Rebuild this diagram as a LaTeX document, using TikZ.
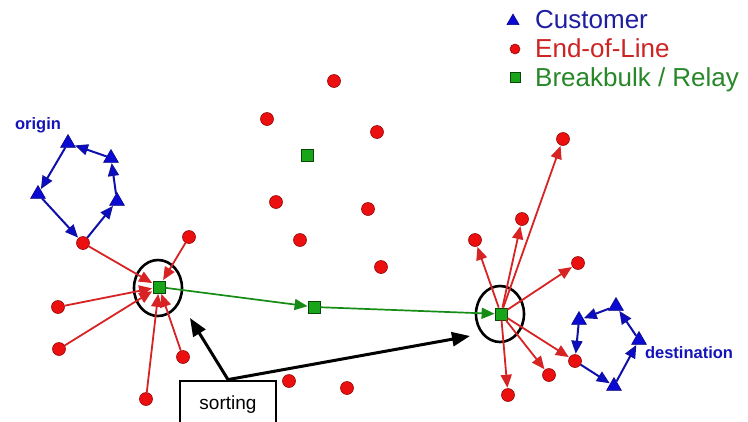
\documentclass[tikz,border=0pt]{standalone}
\usepackage{fontspec}
\setmainfont{Liberation Sans}
\usetikzlibrary{arrows.meta,shapes.geometric}

\definecolor{custblue}{RGB}{10,10,210}
\definecolor{custedge}{RGB}{0,0,120}
\definecolor{custline}{RGB}{15,15,170}
\definecolor{eolred}{RGB}{235,15,15}
\definecolor{eoledge}{RGB}{150,10,10}
\definecolor{linered}{RGB}{215,35,35}
\definecolor{relaygreen}{RGB}{25,165,25}
\definecolor{relayedge}{RGB}{10,70,10}
\definecolor{legblue}{RGB}{30,30,160}
\definecolor{legred}{RGB}{205,35,35}
\definecolor{leggreen}{RGB}{40,135,40}
\definecolor{labblue}{RGB}{20,20,185}

\begin{document}
\begin{tikzpicture}[x=1pt,y=-1pt,
  eol/.style={circle,fill=eolred,draw=eoledge,line width=0.6pt,minimum size=13pt,inner sep=0pt},
  relay/.style={rectangle,fill=relaygreen,draw=relayedge,line width=0.8pt,minimum size=12pt,inner sep=0pt},
  cust/.style={regular polygon,regular polygon sides=3,fill=custblue,draw=custedge,line width=0.5pt,minimum size=17pt,inner sep=0pt},
  hub/.style={ellipse,draw=black,line width=2.6pt,minimum width=48pt,minimum height=56pt,inner sep=0pt},
  redarrow/.style={draw=linered,line width=1.8pt,-{Triangle[length=13pt,width=11pt]},shorten >=0.5pt},
  bluearrow/.style={draw=custline,line width=2pt,-{Triangle[length=13pt,width=11pt,fill=custblue]},shorten >=0.5pt},
  greenarrow/.style={draw=relaygreen!85!black,line width=1.7pt,-{Triangle[length=13pt,width=11pt]}},
  blackarrow/.style={draw=black,line width=3pt,-{Triangle[length=18pt,width=14pt]}},
  legtext/.style={anchor=base west,inner sep=0pt,font=\fontsize{26}{30}\selectfont},
  placelabel/.style={text=labblue,inner sep=0pt,font=\fontsize{16.5}{19}\selectfont\bfseries}
]
\useasboundingbox (0,0) rectangle (748,421);
\fill[white] (0,0) rectangle (748,421);

% legend
\node[cust,minimum size=14pt] (legC) at (513,21) {};
\node[legtext,text=legblue] (legCt) at (535,28) {Customer};
\node[eol,minimum size=10pt] (legE) at (515,49) {};
\node[legtext,text=legred] (legEt) at (535,57) {End-of-Line};
\node[relay,minimum size=10pt] (legR) at (515,77) {};
\node[legtext,text=leggreen] (legRt) at (535,86) {Breakbulk / Relay};

% relay terminals
\node[relay] (sL) at (159,287) {};
\node[relay] (sM) at (314,307) {};
\node[relay] (sR) at (501,314) {};
\node[relay] (sT) at (307,155) {};

% sorting hubs
\node[hub] (hubL) at (158,288) {};
\node[hub] (hubR) at (500,314) {};

% scattered end-of-line terminals
\node[eol] (e1) at (334,81) {};
\node[eol] (e2) at (267,119) {};
\node[eol] (e3) at (377,132) {};
\node[eol] (e4) at (276,202) {};
\node[eol] (e5) at (368,209) {};
\node[eol] (e6) at (300,240) {};
\node[eol] (e7) at (381,267) {};
\node[eol] (e8) at (289,381) {};
\node[eol] (e9) at (347,388) {};

% origin side
\node[eol] (oE) at (83,243) {};
\node[eol] (l1) at (189,237) {};
\node[eol] (l2) at (58,307) {};
\node[eol] (l3) at (59,349) {};
\node[eol] (l4) at (183,357) {};
\node[eol] (l5) at (146,399) {};
\node[cust] (oT1) at (68,143) {};
\node[cust] (oT2) at (111,158) {};
\node[cust] (oT3) at (117,201) {};
\node[cust] (oT4) at (38,194) {};
\node[placelabel] (olab) at (38,125) {origin};

% destination side
\node[eol] (r1) at (563,139) {};
\node[eol] (r2) at (522,219) {};
\node[eol] (r3) at (475,240) {};
\node[eol] (r4) at (578,263) {};
\node[eol] (dE) at (575,361) {};
\node[eol] (r5) at (549,375) {};
\node[eol] (r6) at (508,395) {};
\node[cust] (dT1) at (579,320) {};
\node[cust] (dT2) at (616,306) {};
\node[cust] (dT3) at (639,340) {};
\node[cust] (dT4) at (614,386) {};
\node[placelabel] (dlab) at (689,353) {destination};

% pick-up tour at the origin
\draw[bluearrow] (oE) -- (oT3);
\draw[bluearrow] (oT3) -- (oT2);
\draw[bluearrow] (oT2) -- (oT1);
\draw[bluearrow] (oT1) -- (oT4);
\draw[bluearrow] (oT4) -- (oE);

% inbound to the origin breakbulk
\foreach \s in {oE,l1,l2,l3,l4,l5}
  \draw[redarrow] (\s) -- (sL);

% linehaul between relays
\draw[greenarrow] (sL) -- (sM);
\draw[greenarrow] (sM) -- (sR);

% outbound from the destination breakbulk
\foreach \t in {r1,r2,r3,r4,dE,r5,r6}
  \draw[redarrow] (sR) -- (\t);

% delivery tour at the destination
\draw[bluearrow] (dE) -- (dT4);
\draw[bluearrow] (dT4) -- (dT3);
\draw[bluearrow] (dT3) -- (dT2);
\draw[bluearrow] (dT2) -- (dT1);
\draw[bluearrow] (dT1) -- (dE);

% sorting callout
\node[draw=black,line width=2.8pt,minimum width=96pt,minimum height=48pt,inner sep=0pt,
      font=\fontsize{19}{22}\selectfont] (sortbox) at (228,405) {sorting};
\coordinate (tipL) at (190,318);
\coordinate (tipR) at (470,336);
\draw[blackarrow] (sortbox.north) -- (tipL);
\draw[blackarrow] (sortbox.north) -- (tipR);
\end{tikzpicture}
\end{document}
